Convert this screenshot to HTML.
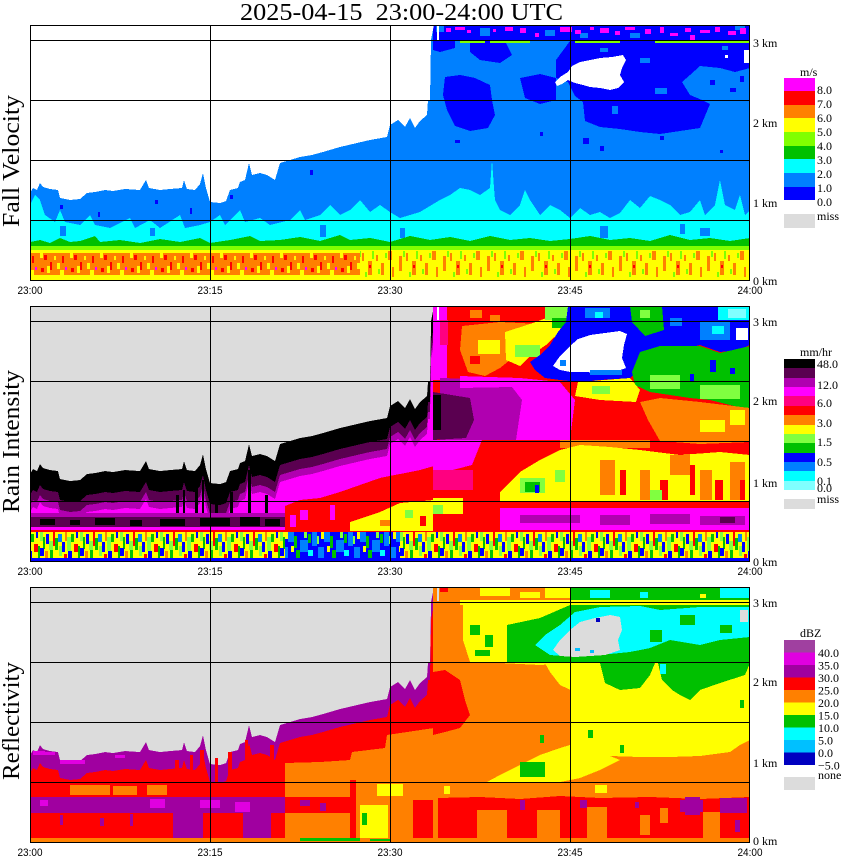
<!DOCTYPE html>
<html><head><meta charset="utf-8"><style>
html,body{margin:0;padding:0;background:#fff;width:850px;height:868px;overflow:hidden}
svg{display:block}
text{font-family:"Liberation Serif",serif;fill:#000}
.s{font-family:"Liberation Sans",sans-serif}
</style></head><body>
<svg width="850" height="868" viewBox="0 0 850 868" xmlns="http://www.w3.org/2000/svg" shape-rendering="crispEdges">
<defs>
<polygon id="dp" points="30,193 33,188 37,190 40,183 43,187 50,189 58,190 60,198 70,200 80,199 87,193 95,192 105,190 113,191 125,189 140,190 146,180 149,188 160,190 170,189 182,188 184,180 187,189 195,190 200,184 203,173 206,188 210,202 220,203 226,201 230,190 238,188 240,182 245,180 249,163 252,175 260,173 267,175 275,180 280,163 290,160 300,157 312,155 323,152 340,147 357,143 370,140 387,137 390,125 398,120 405,127 410,118 415,128 420,121 427,115 428,100 430,100 431,40 434,25 750,25 750,281 30,281"/>
<clipPath id="dc"><use href="#dp"/></clipPath>
<pattern id="pr" width="30" height="22" patternUnits="userSpaceOnUse" x="0" y="253">
<rect width="30" height="22" fill="#ff8000"/>
<rect x="2" y="3" width="2" height="7" fill="#ff0000"/>
<rect x="14" y="2" width="3" height="5" fill="#ff0000"/>
<rect x="20" y="9" width="2" height="8" fill="#ff0000"/>
<rect x="11" y="15" width="3" height="4" fill="#ff0000"/>
<rect x="5" y="14" width="2" height="3" fill="#ff00ff"/>
<rect x="17" y="13" width="3" height="7" fill="#ffff00"/>
<rect x="0" y="17" width="4" height="5" fill="#ffff00"/>
<rect x="27" y="10" width="3" height="6" fill="#ffff00"/>
<rect x="10" y="0" width="3" height="5" fill="#ffff00"/>
<rect x="24" y="3" width="2" height="4" fill="#ffff00"/>
</pattern>
<pattern id="po" width="44" height="27" patternUnits="userSpaceOnUse" x="0" y="251">
<rect width="44" height="27" fill="#ffff00"/>
<rect x="3" y="5" width="3" height="15" fill="#ff8000"/>
<rect x="10" y="2" width="2" height="8" fill="#ff8000"/>
<rect x="16" y="10" width="4" height="14" fill="#ff8000"/>
<rect x="24" y="4" width="2" height="6" fill="#ff8000"/>
<rect x="29" y="12" width="3" height="12" fill="#ff8000"/>
<rect x="36" y="0" width="4" height="9" fill="#ff8000"/>
<rect x="40" y="16" width="2" height="10" fill="#ff8000"/>
<rect x="7" y="0" width="2" height="6" fill="#80ff00"/>
<rect x="20" y="0" width="2" height="8" fill="#80ff00"/>
<rect x="33" y="2" width="2" height="5" fill="#80ff00"/>
<rect x="13" y="21" width="2" height="6" fill="#80ff00"/>
<rect x="26" y="18" width="2" height="5" fill="#80ff00"/>
<rect x="17" y="14" width="2" height="3" fill="#ff0000"/>
</pattern>
<pattern id="n2" width="40" height="26" patternUnits="userSpaceOnUse" x="0" y="532">
<rect width="40" height="26" fill="#ffff00"/>
<rect x="0" y="0" width="3" height="9" fill="#80ff40"/>
<rect x="3" y="5" width="2" height="12" fill="#00c000"/>
<rect x="6" y="2" width="3" height="10" fill="#0000ff"/>
<rect x="9" y="9" width="4" height="9" fill="#80ff40"/>
<rect x="13" y="0" width="2" height="14" fill="#ff0000"/>
<rect x="15" y="6" width="3" height="12" fill="#00c000"/>
<rect x="18" y="2" width="4" height="8" fill="#0080ff"/>
<rect x="22" y="10" width="3" height="10" fill="#0000ff"/>
<rect x="25" y="0" width="2" height="9" fill="#ff8000"/>
<rect x="27" y="5" width="4" height="14" fill="#80ff40"/>
<rect x="31" y="2" width="3" height="8" fill="#00c000"/>
<rect x="34" y="12" width="4" height="8" fill="#ff0000"/>
<rect x="36" y="0" width="2" height="6" fill="#0000ff"/>
<rect x="0" y="16" width="4" height="8" fill="#0000ff"/>
<rect x="5" y="19" width="3" height="7" fill="#ff8000"/>
<rect x="10" y="18" width="3" height="8" fill="#00c000"/>
<rect x="19" y="14" width="3" height="10" fill="#80ff40"/>
<rect x="28" y="19" width="4" height="7" fill="#0000ff"/>
<rect x="38" y="14" width="2" height="12" fill="#00c000"/>
<rect x="24" y="22" width="3" height="4" fill="#ff0000"/>
</pattern>
<pattern id="n2b" width="36" height="26" patternUnits="userSpaceOnUse" x="0" y="532">
<rect width="36" height="26" fill="#0000ff"/>
<rect x="0" y="0" width="6" height="10" fill="#0080ff"/>
<rect x="12" y="8" width="8" height="12" fill="#0080ff"/>
<rect x="24" y="0" width="5" height="14" fill="#0080ff"/>
<rect x="30" y="15" width="6" height="11" fill="#0080ff"/>
<rect x="6" y="4" width="3" height="12" fill="#00c000"/>
<rect x="20" y="2" width="3" height="9" fill="#00c000"/>
<rect x="8" y="18" width="4" height="8" fill="#00c000"/>
<rect x="16" y="0" width="3" height="6" fill="#80ff40"/>
<rect x="29" y="4" width="2" height="8" fill="#80ff40"/>
<rect x="3" y="14" width="3" height="6" fill="#ffff00"/>
<rect x="33" y="0" width="3" height="7" fill="#ffff00"/>
<rect x="20" y="18" width="5" height="6" fill="#00ffff"/>
</pattern>
</defs>

<rect width="850" height="868" fill="#fff"/>

<!-- ============ PANEL 1: Fall Velocity ============ -->
<use href="#dp" fill="#0080ff"/>
<g clip-path="url(#dc)">
<polygon points="570,41 750,41 750,68 735,72 720,68 700,66 690,75 682,82 690,95 702,100 710,104 705,116 700,128 680,131 660,134 640,132 620,129 600,127 585,121 583,102 575,96 568,82 556,78 556,60" fill="#0000ff"/>
<polygon points="445,77 460,75 475,78 490,85 492,100 495,115 488,128 470,131 455,126 447,110 443,95" fill="#0000ff"/>
<polygon points="470,41 505,41 512,55 500,63 480,60 470,52" fill="#0000ff"/>
<polygon points="520,78 540,74 556,78 556,100 540,104 525,98" fill="#0000ff"/>
<polygon points="433,41 455,41 455,48 440,52 433,50" fill="#0000ff"/>
<rect x="700" y="72" width="50" height="25" fill="#0080ff"/>
<rect x="710" y="80" width="5" height="5" fill="#0000ff"/>
<rect x="730" y="88" width="6" height="4" fill="#0000ff"/>
<rect x="740" y="76" width="4" height="6" fill="#0000ff"/>
<rect x="600" y="48" width="8" height="4" fill="#0080ff"/>
<rect x="640" y="58" width="10" height="5" fill="#0080ff"/>
<rect x="722" y="46" width="6" height="4" fill="#0080ff"/>
<rect x="655" y="88" width="12" height="6" fill="#0080ff"/>
<rect x="612" y="106" width="6" height="8" fill="#0080ff"/>
<rect x="744" y="50" width="5" height="13" fill="#ffffff"/>
<rect x="725" y="55" width="3" height="3" fill="#ffffff"/>
<rect x="583" y="138" width="6" height="6" fill="#0000ff"/>
<rect x="600" y="146" width="4" height="5" fill="#0000ff"/>
<rect x="455" y="140" width="5" height="3" fill="#0000ff"/>
<rect x="720" y="150" width="3" height="3" fill="#0000ff"/>
<rect x="540" y="132" width="3" height="4" fill="#0000ff"/>
<rect x="660" y="136" width="4" height="4" fill="#0000ff"/>
<rect x="60" y="205" width="3" height="4" fill="#0000ff"/>
<rect x="98" y="212" width="2" height="5" fill="#0000ff"/>
<rect x="155" y="200" width="3" height="4" fill="#0000ff"/>
<rect x="190" y="208" width="2" height="6" fill="#0000ff"/>
<rect x="230" y="195" width="3" height="4" fill="#0000ff"/>
<rect x="310" y="170" width="3" height="5" fill="#0000ff"/>
<!-- top strip -->
<rect x="433" y="25" width="317" height="15" fill="#0000ff"/>
<rect x="436" y="26" width="8" height="6" fill="#0080ff"/>
<rect x="480" y="28" width="10" height="8" fill="#0080ff"/>
<rect x="545" y="30" width="10" height="6" fill="#0080ff"/>
<rect x="580" y="33" width="8" height="5" fill="#0080ff"/>
<rect x="630" y="33" width="10" height="5" fill="#0080ff"/>
<rect x="735" y="26" width="10" height="4" fill="#0080ff"/>
<rect x="446" y="28" width="5" height="4" fill="#ff00ff"/>
<rect x="455" y="27" width="10" height="3" fill="#ff00ff"/>
<rect x="467" y="30" width="4" height="3" fill="#ff00ff"/>
<rect x="493" y="29" width="3" height="3" fill="#ff00ff"/>
<rect x="505" y="27" width="8" height="4" fill="#ff00ff"/>
<rect x="520" y="28" width="6" height="5" fill="#ff00ff"/>
<rect x="535" y="33" width="4" height="4" fill="#ff00ff"/>
<rect x="560" y="27" width="12" height="5" fill="#ff00ff"/>
<rect x="575" y="30" width="6" height="4" fill="#ff00ff"/>
<rect x="590" y="27" width="4" height="3" fill="#ff00ff"/>
<rect x="600" y="28" width="9" height="5" fill="#ff00ff"/>
<rect x="615" y="31" width="5" height="4" fill="#ff00ff"/>
<rect x="625" y="27" width="10" height="3" fill="#ff00ff"/>
<rect x="645" y="29" width="6" height="5" fill="#ff00ff"/>
<rect x="660" y="27" width="4" height="6" fill="#ff00ff"/>
<rect x="670" y="33" width="8" height="3" fill="#ff00ff"/>
<rect x="685" y="28" width="6" height="4" fill="#ff00ff"/>
<rect x="700" y="30" width="10" height="3" fill="#ff00ff"/>
<rect x="715" y="27" width="5" height="5" fill="#ff00ff"/>
<rect x="728" y="31" width="8" height="4" fill="#ff00ff"/>
<rect x="740" y="28" width="6" height="6" fill="#ff00ff"/>
<rect x="690" y="35" width="5" height="5" fill="#ff00ff"/>
<rect x="437" y="26" width="2" height="14" fill="#ffffff"/>
<rect x="460" y="41" width="25" height="2" fill="#80ff00"/>
<rect x="490" y="41" width="40" height="2" fill="#80ff00"/>
<rect x="575" y="41" width="45" height="2" fill="#80ff00"/>
<rect x="655" y="41" width="95" height="2" fill="#80ff00"/>
<!-- white blob -->
<polygon points="555,82 560,77 568,72 572,66 580,62 590,60 600,58 612,57 623,55 626,60 622,68 620,75 624,82 618,88 610,90 600,88 590,87 583,85 575,83 568,80 562,84 557,86" fill="#ffffff"/>
<!-- cyan -->
<polygon points="30,205 35,195 40,200 45,215 55,222 60,210 65,222 80,225 90,215 95,225 110,228 130,218 135,228 150,220 160,228 180,215 185,228 200,225 210,222 220,215 225,225 240,210 245,222 260,218 270,225 290,220 300,210 305,220 320,215 330,205 340,215 350,210 360,200 370,212 380,205 390,212 400,218 420,212 440,200 450,195 460,188 470,190 480,195 490,188 492,160 494,188 495,200 500,210 510,215 520,205 525,190 530,200 540,215 550,205 560,210 570,218 580,208 590,215 600,212 610,218 620,213 630,200 640,208 650,196 660,200 670,205 680,215 690,212 700,200 705,215 715,205 720,180 725,205 735,210 740,195 745,215 750,210 750,250 30,250" fill="#00ffff"/>
<rect x="320" y="225" width="6" height="12" fill="#0080ff"/>
<rect x="400" y="228" width="5" height="10" fill="#0080ff"/>
<rect x="600" y="226" width="8" height="12" fill="#0080ff"/>
<rect x="680" y="224" width="5" height="10" fill="#0080ff"/>
<rect x="700" y="228" width="10" height="8" fill="#0080ff"/>
<rect x="60" y="226" width="6" height="10" fill="#0080ff"/>
<rect x="150" y="228" width="5" height="8" fill="#0080ff"/>
<!-- green -->
<polygon points="30,242 40,240 50,243 60,238 70,242 80,241 95,236 100,242 120,240 140,243 160,239 180,242 200,238 210,243 230,240 250,236 260,241 280,240 300,237 320,241 340,235 350,240 370,238 390,242 410,236 430,240 450,237 470,241 490,236 510,240 530,238 550,241 570,239 590,236 610,240 630,238 650,241 670,235 690,240 710,238 730,241 750,238 750,252 30,252" fill="#00c000"/>
<rect x="30" y="246" width="720" height="4" fill="#80ff00"/>
<rect x="30" y="250" width="720" height="31" fill="#ffff00"/>
<rect x="30" y="253" width="330" height="22" fill="url(#pr)"/>
<rect x="360" y="251" width="390" height="27" fill="url(#po)"/>
<rect x="30" y="277" width="720" height="4" fill="#ffff00"/>
</g>

<!-- ============ PANEL 2: Rain Intensity ============ -->
<rect x="30" y="306" width="720" height="255" fill="#dcdcdc"/>
<g transform="translate(0,281)" clip-path="url(#dc)">
<use href="#dp" fill="#000000"/>
<use href="#dp" transform="translate(0,21)" fill="#5a0050"/>
<use href="#dp" transform="translate(0,31)" fill="#b000b0"/>
<use href="#dp" transform="translate(0,38)" fill="#ff00ff"/>
</g>
<rect x="176" y="495" width="3" height="25" fill="#000"/>
<rect x="183" y="490" width="2" height="30" fill="#000"/>
<rect x="195" y="485" width="3" height="35" fill="#000"/>
<rect x="202" y="480" width="2" height="40" fill="#000"/>
<rect x="215" y="500" width="3" height="25" fill="#000"/>
<rect x="230" y="492" width="3" height="30" fill="#000"/>
<rect x="248" y="470" width="3" height="50" fill="#000"/>
<rect x="265" y="495" width="3" height="28" fill="#000"/>
<rect x="30" y="513" width="255" height="4" fill="#b000b0"/>
<rect x="30" y="517" width="255" height="10" fill="#5a0050"/>
<rect x="40" y="519" width="15" height="6" fill="#000"/>
<rect x="70" y="520" width="10" height="5" fill="#000"/>
<rect x="95" y="518" width="20" height="7" fill="#000"/>
<rect x="130" y="520" width="12" height="6" fill="#000"/>
<rect x="160" y="519" width="25" height="7" fill="#000"/>
<rect x="200" y="518" width="30" height="8" fill="#000"/>
<rect x="240" y="517" width="20" height="9" fill="#000"/>
<rect x="265" y="519" width="15" height="7" fill="#000"/>
<rect x="30" y="527" width="255" height="3" fill="#ff00ff"/>
<rect x="30" y="530" width="255" height="2" fill="#ff0000"/>
<!-- middle -->
<polygon points="285,506 300,500 320,498 340,492 360,485 380,478 400,474 420,470 434,466 434,532 285,532" fill="#ff0000"/>
<rect x="300" y="510" width="8" height="10" fill="#ff00ff"/>
<rect x="330" y="505" width="5" height="15" fill="#ff00ff"/>
<rect x="290" y="515" width="6" height="12" fill="#ff00ff"/>
<polygon points="350,522 380,512 400,503 434,500 434,531 350,531" fill="#ffff00"/>
<rect x="405" y="510" width="8" height="8" fill="#80ff40"/>
<rect x="380" y="520" width="10" height="6" fill="#ff8000"/>
<rect x="420" y="516" width="6" height="10" fill="#ff0000"/>
<rect x="30" y="532" width="404" height="26" fill="url(#n2)"/>
<rect x="285" y="532" width="115" height="26" fill="url(#n2b)"/>
<!-- right region -->
<rect x="433" y="306" width="317" height="255" fill="#ff0000"/>
<rect x="433" y="306" width="14" height="74" fill="#ff00ff"/>
<rect x="440" y="320" width="8" height="25" fill="#ff0080"/>
<rect x="437" y="307" width="2" height="13" fill="#ffffff"/>
<rect x="470" y="310" width="12" height="8" fill="#ff8000"/>
<rect x="490" y="315" width="10" height="6" fill="#ff8000"/>
<polygon points="462,326 500,322 540,324 550,330 530,338 520,352 500,368 485,376 468,372 460,350" fill="#ff8000"/>
<rect x="478" y="340" width="22" height="14" fill="#ffff00"/>
<rect x="470" y="356" width="10" height="8" fill="#ff0000"/>
<polygon points="505,332 530,324 552,316 562,330 546,345 530,356 520,366 506,360" fill="#ffff00"/>
<rect x="545" y="306" width="25" height="14" fill="#80ff40"/>
<rect x="552" y="318" width="16" height="10" fill="#00c000"/>
<rect x="515" y="345" width="25" height="12" fill="#80ff40"/>
<polygon points="568,306 750,306 750,345 738,350 720,352 700,345 680,350 660,348 645,355 640,370 630,378 600,380 580,382 560,380 545,378 535,370 530,362 540,355 550,345 558,332 566,322" fill="#0000ff"/>
<polygon points="630,306 662,306 664,330 645,336 632,322" fill="#00c000"/>
<rect x="640" y="310" width="10" height="8" fill="#80ff40"/>
<rect x="585" y="308" width="25" height="10" fill="#0080ff"/>
<rect x="595" y="312" width="8" height="6" fill="#00ffff"/>
<rect x="718" y="306" width="32" height="14" fill="#00ffff"/>
<rect x="728" y="309" width="18" height="9" fill="#80ffff"/>
<rect x="700" y="322" width="30" height="18" fill="#0080ff"/>
<rect x="712" y="326" width="12" height="8" fill="#00ffff"/>
<rect x="736" y="328" width="12" height="12" fill="#ffffff"/>
<rect x="670" y="318" width="12" height="8" fill="#0080ff"/>
<polygon points="553,366 560,356 570,346 578,339 590,335 605,333 620,331 627,334 624,345 622,358 626,368 615,372 600,373 585,372 570,372 560,370" fill="#ffffff"/>
<rect x="590" y="370" width="32" height="5" fill="#0080ff"/>
<rect x="560" y="360" width="6" height="6" fill="#0080ff"/>
<polygon points="640,352 660,346 700,346 720,353 750,346 750,410 730,405 710,400 690,398 670,395 650,392 635,385 632,372" fill="#00c000"/>
<rect x="650" y="375" width="30" height="14" fill="#80ff40"/>
<rect x="700" y="385" width="40" height="14" fill="#80ff40"/>
<rect x="710" y="360" width="6" height="12" fill="#0000ff"/>
<rect x="690" y="374" width="4" height="8" fill="#0000ff"/>
<rect x="730" y="368" width="5" height="6" fill="#0000ff"/>
<polygon points="578,382 630,378 640,390 636,402 600,400 575,396" fill="#ffff00"/>
<rect x="592" y="386" width="18" height="8" fill="#80ff40"/>
<polygon points="440,378 515,380 522,400 516,440 440,440" fill="#b000b0"/>
<polygon points="433,392 470,398 474,420 466,438 433,440" fill="#5a0050"/>
<rect x="433" y="395" width="8" height="35" fill="#000000"/>
<polygon points="460,376 520,378 560,382 575,400 570,440 516,440 522,400 512,387 460,388" fill="#ff00ff"/>
<polygon points="640,402 660,398 700,402 750,408 750,442 700,444 660,441 648,420" fill="#ff8000"/>
<rect x="700" y="420" width="25" height="12" fill="#ffff00"/>
<rect x="730" y="410" width="15" height="15" fill="#ffff00"/>
<polygon points="433,440 482,440 472,465 445,472 433,470" fill="#ff00ff"/>
<rect x="433" y="470" width="40" height="20" fill="#ff0080"/>
<rect x="560" y="440" width="90" height="8" fill="#ff8000"/>
<polygon points="500,492 520,472 540,460 560,450 580,445 610,447 640,450 680,455 720,452 750,455 750,502 500,502" fill="#ffff00"/>
<rect x="600" y="460" width="15" height="35" fill="#ff8000"/>
<rect x="640" y="470" width="10" height="30" fill="#ff8000"/>
<rect x="670" y="455" width="20" height="20" fill="#ff8000"/>
<rect x="700" y="470" width="12" height="30" fill="#ff8000"/>
<rect x="730" y="462" width="15" height="38" fill="#ff8000"/>
<rect x="620" y="470" width="6" height="25" fill="#ff0000"/>
<rect x="660" y="480" width="8" height="20" fill="#ff0000"/>
<rect x="690" y="465" width="5" height="30" fill="#ff0000"/>
<rect x="715" y="480" width="8" height="20" fill="#ff0000"/>
<rect x="740" y="480" width="5" height="20" fill="#ff0000"/>
<rect x="520" y="478" width="25" height="15" fill="#80ff40"/>
<rect x="555" y="470" width="10" height="12" fill="#80ff40"/>
<rect x="650" y="490" width="12" height="10" fill="#80ff40"/>
<rect x="525" y="482" width="15" height="10" fill="#00c000"/>
<rect x="535" y="485" width="4" height="8" fill="#0000ff"/>
<rect x="500" y="508" width="250" height="22" fill="#ff00ff"/>
<rect x="520" y="515" width="60" height="8" fill="#b000b0"/>
<rect x="600" y="515" width="30" height="10" fill="#b000b0"/>
<rect x="650" y="514" width="40" height="10" fill="#b000b0"/>
<rect x="700" y="516" width="45" height="9" fill="#b000b0"/>
<rect x="720" y="517" width="15" height="6" fill="#5a0050"/>
<rect x="433" y="498" width="30" height="16" fill="#ffff00"/>
<rect x="433" y="505" width="10" height="9" fill="#80ff40"/>
<rect x="433" y="532" width="317" height="26" fill="url(#n2)"/>
<rect x="30" y="558" width="720" height="3" fill="#0000ff"/>

<!-- ============ PANEL 3: Reflectivity ============ -->
<rect x="30" y="587" width="720" height="255" fill="#dcdcdc"/>
<g transform="translate(0,562)" clip-path="url(#dc)">
<use href="#dp" fill="#a000a0"/>
<use href="#dp" transform="translate(0,18)" fill="#ff0000"/>
</g>
<rect x="33" y="751" width="12" height="4" fill="#e000e0"/>
<rect x="45" y="752" width="10" height="3" fill="#e000e0"/>
<rect x="60" y="760" width="25" height="4" fill="#e000e0"/>
<rect x="115" y="755" width="10" height="3" fill="#e000e0"/>
<rect x="175" y="760" width="4" height="25" fill="#ff0000"/>
<rect x="190" y="755" width="3" height="30" fill="#ff0000"/>
<rect x="200" y="750" width="4" height="35" fill="#ff0000"/>
<rect x="215" y="758" width="3" height="25" fill="#ff0000"/>
<rect x="228" y="752" width="4" height="30" fill="#ff0000"/>
<rect x="245" y="740" width="3" height="45" fill="#ff0000"/>
<rect x="258" y="755" width="5" height="30" fill="#ff0000"/>
<rect x="270" y="745" width="4" height="40" fill="#ff0000"/>
<rect x="70" y="785" width="40" height="10" fill="#ff8000"/>
<rect x="113" y="786" width="24" height="9" fill="#ff8000"/>
<rect x="147" y="785" width="20" height="10" fill="#ff8000"/>
<rect x="30" y="797" width="255" height="16" fill="#a000a0"/>
<rect x="40" y="800" width="8" height="6" fill="#e000e0"/>
<rect x="150" y="799" width="15" height="9" fill="#e000e0"/>
<rect x="200" y="800" width="20" height="8" fill="#e000e0"/>
<rect x="235" y="802" width="15" height="10" fill="#e000e0"/>
<rect x="173" y="813" width="30" height="25" fill="#a000a0"/>
<rect x="243" y="813" width="28" height="25" fill="#a000a0"/>
<rect x="60" y="815" width="3" height="10" fill="#a000a0"/>
<rect x="100" y="818" width="4" height="8" fill="#a000a0"/>
<rect x="130" y="814" width="3" height="12" fill="#a000a0"/>
<!-- middle -->
<polygon points="285,763 320,762 350,760 352,752 385,748 387,735 434,728 434,842 285,842" fill="#ff8000"/>
<rect x="285" y="797" width="65" height="16" fill="#ff0000"/>
<rect x="300" y="800" width="10" height="6" fill="#a000a0"/>
<rect x="320" y="803" width="6" height="8" fill="#a000a0"/>
<rect x="350" y="780" width="6" height="58" fill="#ff0000"/>
<rect x="360" y="805" width="28" height="33" fill="#ffff00"/>
<rect x="362" y="813" width="5" height="12" fill="#00c000"/>
<rect x="377" y="784" width="26" height="12" fill="#ffff00"/>
<rect x="413" y="800" width="20" height="38" fill="#ff0000"/>
<!-- right -->
<rect x="433" y="587" width="317" height="255" fill="#ff8000"/>
<rect x="437" y="588" width="2" height="13" fill="#dcdcdc"/>
<rect x="480" y="588" width="30" height="8" fill="#ffff00"/>
<rect x="520" y="592" width="20" height="6" fill="#ffff00"/>
<rect x="545" y="588" width="25" height="10" fill="#ffff00"/>
<rect x="440" y="588" width="8" height="4" fill="#ff0000"/>
<rect x="570" y="588" width="180" height="12" fill="#00c000"/>
<rect x="590" y="590" width="20" height="8" fill="#00ffff"/>
<rect x="640" y="592" width="8" height="6" fill="#00ffff"/>
<rect x="720" y="588" width="30" height="10" fill="#00ffff"/>
<rect x="700" y="594" width="6" height="4" fill="#ffff00"/>
<rect x="460" y="600" width="290" height="5" fill="#ffff00"/>
<polygon points="463,605 570,605 570,663 540,665 500,663 470,662 463,640" fill="#ffff00"/>
<rect x="470" y="625" width="10" height="10" fill="#00c000"/>
<rect x="485" y="635" width="8" height="12" fill="#00c000"/>
<rect x="475" y="650" width="15" height="6" fill="#00c000"/>
<polygon points="507,625 540,618 570,605 750,605 750,663 507,663" fill="#00c000"/>
<polygon points="535,645 545,635 560,625 575,612 600,607 640,606 660,610 700,607 750,607 750,637 720,640 700,645 670,640 650,648 630,652 600,655 575,657 550,655" fill="#00ffff"/>
<rect x="680" y="615" width="15" height="10" fill="#00c000"/>
<rect x="720" y="625" width="12" height="8" fill="#00c000"/>
<rect x="650" y="630" width="12" height="12" fill="#00c000"/>
<rect x="740" y="610" width="8" height="12" fill="#dcdcdc"/>
<polygon points="553,650 560,640 570,630 580,622 595,618 610,615 620,617 622,630 618,640 620,650 605,655 590,656 575,657 560,656" fill="#dcdcdc"/>
<rect x="596" y="618" width="4" height="4" fill="#0000c0"/>
<rect x="575" y="648" width="5" height="3" fill="#00c0ff"/>
<rect x="590" y="650" width="4" height="3" fill="#00c0ff"/>
<polygon points="433,672 445,670 460,680 465,700 470,715 460,728 445,732 433,735" fill="#ff0000"/>
<polygon points="570,663 750,663 750,740 740,745 730,752 700,756 670,757 640,757 610,756 590,752 570,745" fill="#ffff00"/>
<polygon points="545,663 600,663 600,690 575,692 560,685 550,672" fill="#ffff00"/>
<polygon points="600,663 655,663 650,675 640,688 620,690 605,683" fill="#00c000"/>
<polygon points="658,663 750,663 745,675 720,683 700,690 690,700 680,695 672,690 662,680" fill="#00c000"/>
<rect x="660" y="664" width="6" height="10" fill="#00ffff"/>
<polygon points="487,782 500,775 520,765 540,755 560,748 570,745 590,752 610,756 620,760 600,770 580,778 560,782" fill="#ffff00"/>
<rect x="520" y="762" width="25" height="15" fill="#00c000"/>
<rect x="540" y="735" width="4" height="8" fill="#00c000"/>
<rect x="588" y="730" width="5" height="8" fill="#00c000"/>
<rect x="620" y="745" width="4" height="8" fill="#00c000"/>
<rect x="740" y="700" width="4" height="8" fill="#00c000"/>
<rect x="444" y="786" width="6" height="8" fill="#ffff00"/>
<rect x="595" y="785" width="12" height="8" fill="#ffff00"/>
<polygon points="438,798 480,797 520,799 560,796 600,798 650,797 700,799 750,797 750,838 438,838" fill="#ff0000"/>
<rect x="477" y="810" width="30" height="28" fill="#ff8000"/>
<rect x="537" y="810" width="23" height="28" fill="#ff8000"/>
<rect x="587" y="807" width="20" height="31" fill="#ff8000"/>
<rect x="703" y="812" width="17" height="26" fill="#ff8000"/>
<rect x="640" y="815" width="10" height="20" fill="#ff8000"/>
<rect x="660" y="808" width="8" height="15" fill="#ff8000"/>
<rect x="680" y="800" width="23" height="12" fill="#a000a0"/>
<rect x="685" y="797" width="15" height="18" fill="#a000a0"/>
<rect x="720" y="798" width="27" height="15" fill="#a000a0"/>
<rect x="520" y="800" width="5" height="10" fill="#a000a0"/>
<rect x="580" y="800" width="7" height="8" fill="#a000a0"/>
<rect x="635" y="802" width="4" height="6" fill="#a000a0"/>
<rect x="735" y="820" width="5" height="12" fill="#a000a0"/>
<rect x="30" y="838" width="720" height="4" fill="#ff8000"/>
<rect x="300" y="838" width="60" height="3" fill="#00c000"/>
<rect x="370" y="839" width="20" height="2" fill="#00c000"/>

<!-- ============ GRID & FRAMES ============ -->
<g stroke="#000" stroke-width="1" fill="none">
<path d="M30 40.5H750M30 100.5H750M30 160.5H750M30 220.5H750M210.5 25V281M390.5 25V281M570.5 25V281"/>
<rect x="30.5" y="25.5" width="719" height="255"/>
<path d="M30 321.5H750M30 381.5H750M30 441.5H750M30 501.5H750M210.5 306V562M390.5 306V562M570.5 306V562"/>
<rect x="30.5" y="306.5" width="719" height="255"/>
<path d="M30 602.5H750M30 662.5H750M30 722.5H750M30 782.5H750M210.5 587V843M390.5 587V843M570.5 587V843"/>
<rect x="30.5" y="587.5" width="719" height="255"/>
</g>

<!-- ============ TEXT ============ -->
<text x="240" y="20" font-size="24" textLength="323" lengthAdjust="spacingAndGlyphs" xml:space="preserve">2025-04-15  23:00-24:00 UTC</text>
<text transform="translate(19,227) rotate(-90)" font-size="24" textLength="132" lengthAdjust="spacingAndGlyphs">Fall Velocity</text>
<text transform="translate(19,513) rotate(-90)" font-size="24" textLength="143" lengthAdjust="spacingAndGlyphs">Rain Intensity</text>
<text transform="translate(19,780) rotate(-90)" font-size="24" textLength="118" lengthAdjust="spacingAndGlyphs">Reflectivity</text>

<g class="s" font-size="11" text-anchor="middle">
<text class="s" x="30" y="294" textLength="25" lengthAdjust="spacingAndGlyphs">23:00</text>
<text class="s" x="210" y="294" textLength="25" lengthAdjust="spacingAndGlyphs">23:15</text>
<text class="s" x="390" y="294" textLength="25" lengthAdjust="spacingAndGlyphs">23:30</text>
<text class="s" x="570" y="294" textLength="25" lengthAdjust="spacingAndGlyphs">23:45</text>
<text class="s" x="750" y="294" textLength="25" lengthAdjust="spacingAndGlyphs">24:00</text>
<text class="s" x="30" y="575" textLength="25" lengthAdjust="spacingAndGlyphs">23:00</text>
<text class="s" x="210" y="575" textLength="25" lengthAdjust="spacingAndGlyphs">23:15</text>
<text class="s" x="390" y="575" textLength="25" lengthAdjust="spacingAndGlyphs">23:30</text>
<text class="s" x="570" y="575" textLength="25" lengthAdjust="spacingAndGlyphs">23:45</text>
<text class="s" x="750" y="575" textLength="25" lengthAdjust="spacingAndGlyphs">24:00</text>
<text class="s" x="30" y="856" textLength="25" lengthAdjust="spacingAndGlyphs">23:00</text>
<text class="s" x="210" y="856" textLength="25" lengthAdjust="spacingAndGlyphs">23:15</text>
<text class="s" x="390" y="856" textLength="25" lengthAdjust="spacingAndGlyphs">23:30</text>
<text class="s" x="570" y="856" textLength="25" lengthAdjust="spacingAndGlyphs">23:45</text>
<text class="s" x="750" y="856" textLength="25" lengthAdjust="spacingAndGlyphs">24:00</text>
</g>

<g font-size="12">
<text x="753" y="47">3 km</text><text x="753" y="127">2 km</text><text x="753" y="207">1 km</text><text x="753" y="285">0 km</text>
<text x="753" y="326">3 km</text><text x="753" y="405">2 km</text><text x="753" y="487">1 km</text><text x="753" y="566">0 km</text>
<text x="753" y="607">3 km</text><text x="753" y="686">2 km</text><text x="753" y="767">1 km</text><text x="753" y="845">0 km</text>
</g>

<!-- Legend 1 -->
<rect x="784" y="78" width="31" height="14" fill="#ff00ff"/>
<rect x="784" y="91" width="31" height="14" fill="#ff0000"/>
<rect x="784" y="105" width="31" height="14" fill="#ff8000"/>
<rect x="784" y="118" width="31" height="14" fill="#ffff00"/>
<rect x="784" y="132" width="31" height="14" fill="#80ff00"/>
<rect x="784" y="146" width="31" height="14" fill="#00c000"/>
<rect x="784" y="159" width="31" height="14" fill="#00ffff"/>
<rect x="784" y="173" width="31" height="14" fill="#0080ff"/>
<rect x="784" y="187" width="31" height="13" fill="#0000ff"/>
<rect x="784" y="214" width="31" height="14" fill="#dcdcdc"/>
<g font-size="12">
<text x="800" y="76">m/s</text>
<text x="817" y="94">8.0</text><text x="817" y="108">7.0</text><text x="817" y="122">6.0</text><text x="817" y="136">5.0</text><text x="817" y="150">4.0</text><text x="817" y="164">3.0</text><text x="817" y="178">2.0</text><text x="817" y="192">1.0</text><text x="817" y="206">0.0</text>
<text x="817" y="220">miss</text>
</g>

<!-- Legend 2 -->
<rect x="784" y="359" width="31" height="10" fill="#000000"/>
<rect x="784" y="368" width="31" height="10" fill="#5a0050"/>
<rect x="784" y="378" width="31" height="10" fill="#b000b0"/>
<rect x="784" y="387" width="31" height="10" fill="#ff00ff"/>
<rect x="784" y="396" width="31" height="10" fill="#ff0080"/>
<rect x="784" y="406" width="31" height="10" fill="#ff0000"/>
<rect x="784" y="415" width="31" height="10" fill="#ff8000"/>
<rect x="784" y="425" width="31" height="10" fill="#ffff00"/>
<rect x="784" y="434" width="31" height="10" fill="#80ff40"/>
<rect x="784" y="443" width="31" height="10" fill="#00c000"/>
<rect x="784" y="453" width="31" height="10" fill="#0000ff"/>
<rect x="784" y="462" width="31" height="10" fill="#0080ff"/>
<rect x="784" y="471" width="31" height="10" fill="#00ffff"/>
<rect x="784" y="481" width="31" height="9" fill="#80ffff"/>
<rect x="784" y="499" width="31" height="10" fill="#dcdcdc"/>
<g font-size="12">
<text x="800" y="356">mm/hr</text>
<text x="817" y="368">48.0</text><text x="817" y="389">12.0</text><text x="817" y="407">6.0</text><text x="817" y="427">3.0</text><text x="817" y="446">1.5</text><text x="817" y="466">0.5</text><text x="817" y="485">0.1</text><text x="817" y="492">0.0</text>
<text x="817" y="503">miss</text>
</g>

<!-- Legend 3 -->
<rect x="784" y="640" width="31" height="13" fill="#a040a0"/>
<rect x="784" y="652.5" width="31" height="13" fill="#e000e0"/>
<rect x="784" y="665" width="31" height="13" fill="#a000a0"/>
<rect x="784" y="677.5" width="31" height="13" fill="#ff0000"/>
<rect x="784" y="690" width="31" height="13" fill="#ff8000"/>
<rect x="784" y="702.5" width="31" height="13" fill="#ffff00"/>
<rect x="784" y="715" width="31" height="13" fill="#00c000"/>
<rect x="784" y="727.5" width="31" height="13" fill="#00ffff"/>
<rect x="784" y="740" width="31" height="13" fill="#00c0ff"/>
<rect x="784" y="752.5" width="31" height="12.5" fill="#0000c0"/>
<rect x="784" y="777" width="31" height="13" fill="#dcdcdc"/>
<g font-size="12">
<text x="800" y="637">dBZ</text>
<text x="818" y="657">40.0</text><text x="818" y="669.5">35.0</text><text x="818" y="682">30.0</text><text x="818" y="694.5">25.0</text><text x="818" y="707">20.0</text><text x="818" y="719.5">15.0</text><text x="818" y="732">10.0</text><text x="818" y="744.5">5.0</text><text x="818" y="757">0.0</text><text x="818" y="769.5">−5.0</text>
<text x="818" y="779">none</text>
</g>
</svg>
</body></html>
